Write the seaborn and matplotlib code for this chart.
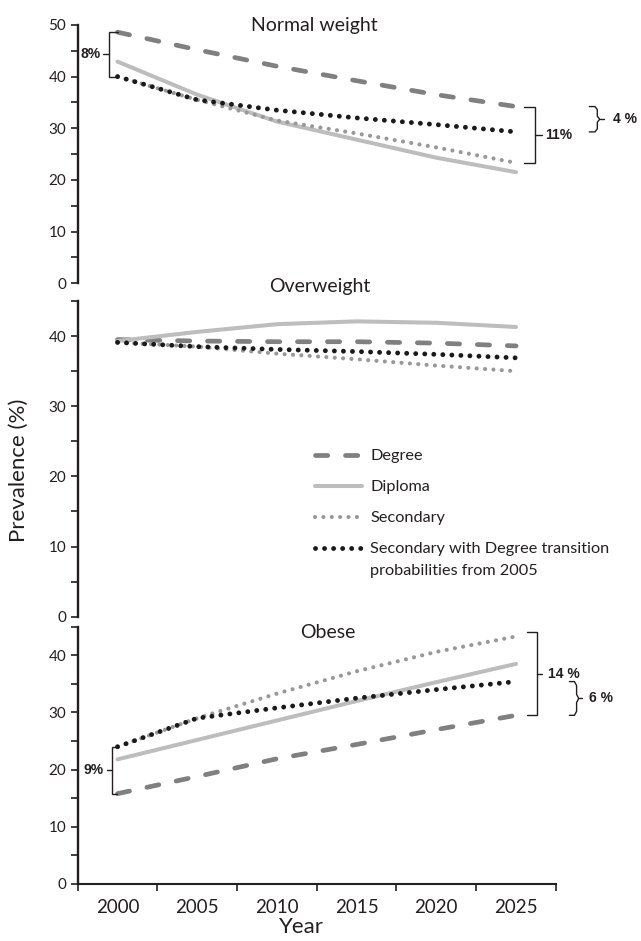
import matplotlib
matplotlib.use("Agg")
import matplotlib.pyplot as plt
from matplotlib.ticker import MultipleLocator, FixedLocator, NullFormatter
import numpy as np
import pandas as pd
import seaborn as sns

# ============================================================
# DATA (5-year steps)
# ============================================================
years = [2000, 2005, 2010, 2015, 2020, 2025]
groups = ["Degree", "Diploma", "Secondary", "Secondary with Degree TP"]

normal_degree = [48.6, 45.2, 42.0, 39.2, 36.5, 34.2]
normal_diploma = [42.9, 36.5, 31.3, 27.8, 24.3, 21.5]
normal_secondary = [40.0, 35.5, 31.5, 29.0, 26.3, 23.3]
normal_sec_tp = [40.0, 35.5, 33.5, 32.0, 30.7, 29.3]

over_degree = [39.5, 39.3, 39.2, 39.2, 39.0, 38.6]
over_diploma = [39.3, 40.6, 41.7, 42.1, 41.9, 41.3]
over_secondary = [39.1, 38.5, 37.5, 36.7, 35.8, 35.0]
over_sec_tp = [39.1, 38.5, 38.1, 37.8, 37.4, 36.9]

obese_degree = [15.8, 18.8, 21.9, 24.4, 27.0, 29.5]
obese_diploma = [21.8, 25.2, 28.6, 32.0, 35.3, 38.5]
obese_secondary = [24.0, 29.0, 33.3, 37.2, 40.6, 43.3]
obese_sec_tp = [24.0, 29.0, 30.8, 32.5, 34.0, 35.4]

legend_labels = ["Degree", "Diploma", "Secondary", "Secondary with Degree transition"]
legend_extra = "probabilities from 2005"

# ============================================================
# STYLE
# ============================================================
sns.set_style("ticks")
plt.rcParams["font.family"] = ["Lato", "DejaVu Sans"]
INK = "#231f20"
plt.rcParams["text.color"] = INK
plt.rcParams["axes.labelcolor"] = INK
plt.rcParams["xtick.color"] = INK
plt.rcParams["ytick.color"] = INK

palette = {"Degree": "#808080", "Diploma": "#bdbdbd",
           "Secondary": "#999999", "Secondary with Degree TP": "#1a1a1a"}
dash_map = {"Degree": (2.6, 3.75), "Diploma": "",
            "Secondary": (0.01, 2.0), "Secondary with Degree TP": (0.01, 1.85)}
size_map = {"Degree": 3.4, "Diploma": 2.9,
            "Secondary": 3.0, "Secondary with Degree TP": 3.5}

BR_FONT = dict(family=["Liberation Sans", "DejaVu Sans"], weight="bold", size=10, color=INK)


def draw_lines(ax, deg, dip, sec, tp):
    df = pd.DataFrame({
        "year": years * 4,
        "value": deg + dip + sec + tp,
        "group": np.repeat(groups, len(years)),
    })
    sns.lineplot(data=df, x="year", y="value", hue="group", style="group", size="group",
                 hue_order=groups, style_order=groups, size_order=groups,
                 palette=palette, dashes=dash_map, sizes=size_map,
                 estimator=None, legend=False, ax=ax,
                 dash_capstyle="round", solid_capstyle="round")


def setup_axis(ax, ytop, bottom_axis=False):
    ax.set_xlim(1997.5, 2027.5)
    ax.set_ylim(0, ytop)
    ax.yaxis.set_major_locator(MultipleLocator(10))
    ax.yaxis.set_minor_locator(MultipleLocator(5))
    ax.tick_params(axis="y", which="both", direction="out", length=5.3, width=1.2,
                   labelsize=11, pad=3)
    for s in ["top", "right"]:
        ax.spines[s].set_visible(False)
    ax.spines["left"].set_linewidth(1.7)
    ax.spines["left"].set_color(INK)
    ax.set_ylabel("")
    ax.set_xlabel("")
    if bottom_axis:
        ax.spines["bottom"].set_linewidth(1.5)
        ax.spines["bottom"].set_color(INK)
        ax.xaxis.set_major_locator(FixedLocator(np.arange(1997.5, 2028, 5)))
        ax.xaxis.set_major_formatter(NullFormatter())
        ax.xaxis.set_minor_locator(FixedLocator(years))
        ax.set_xticklabels([str(y) for y in years], minor=True)
        ax.tick_params(axis="x", which="major", direction="out", length=5.3, width=1.2)
        ax.tick_params(axis="x", which="minor", length=0, labelsize=13.5, pad=11)
    else:
        ax.spines["bottom"].set_visible(False)
        ax.set_xticks([])


def bracket(ax, x_arm, x_v, y0, y1, x_tick, x_label, label, curly=False):
    ym = (y0 + y1) / 2
    if curly:
        rx = 0.3 * (x_v - x_arm)
        ry = 0.12 * (y0 - y1)
        px = [x_arm, x_v - rx, x_v, x_v, x_v + rx, x_v, x_v, x_v - rx, x_arm]
        py = [y0, y0, y0 - ry, ym + ry, ym, ym - ry, y1 + ry, y1, y1]
        tick_start = x_v + rx
    else:
        px = [x_arm, x_v, x_v, x_arm]
        py = [y0, y0, y1, y1]
        tick_start = x_v
    ax.plot(px, py, color=INK, lw=1.0, clip_on=False, solid_joinstyle="miter")
    ax.plot([tick_start, x_tick], [ym, ym], color=INK, lw=1.0, clip_on=False)
    ha = "left" if x_tick > x_v else "right"
    ax.text(x_label, ym, label, ha=ha, va="center", **BR_FONT)


# ============================================================
# FIGURE
# ============================================================
fig = plt.figure(figsize=(6.41, 9.41), dpi=100)
ax_top = fig.add_axes([0.1212, 0.699, 0.746, 0.2745])
ax_mid = fig.add_axes([0.1212, 0.3446, 0.746, 0.3355])
ax_bot = fig.add_axes([0.1212, 0.0606, 0.746, 0.2734])

# --- Normal weight
draw_lines(ax_top, normal_degree, normal_diploma, normal_secondary, normal_sec_tp)
setup_axis(ax_top, 50)
ax_top.text(0.494, 0.978, "Normal weight", transform=ax_top.transAxes,
            ha="center", va="baseline", fontsize=14)
bracket(ax_top, 2000.03, 1999.49, normal_degree[0], normal_sec_tp[0], 1999.1, 1998.95, "8%")
bracket(ax_top, 2025.5, 2026.2, normal_degree[-1], normal_secondary[-1], 2026.65, 2026.8, "11%")
bracket(ax_top, 2029.6, 2030.1, normal_degree[-1], normal_sec_tp[-1], 2030.5, 2031.1, "4 %", curly=True)

# --- Overweight
draw_lines(ax_mid, over_degree, over_diploma, over_secondary, over_sec_tp)
setup_axis(ax_mid, 45)
ax_mid.text(0.506, 1.029, "Overweight", transform=ax_mid.transAxes,
            ha="center", va="baseline", fontsize=14)
ax_mid.set_ylabel("Prevalence (%)", fontsize=16)
ax_mid.yaxis.set_label_coords(-0.102, 0.465)

leg = ax_mid.legend(handles=ax_mid.get_lines()[:4], labels=legend_labels,
                    loc="upper left", bbox_to_anchor=(0.496, 0.531), frameon=False,
                    fontsize=11.7, handlelength=2.9, handletextpad=0.52,
                    labelspacing=1.02, borderpad=0, borderaxespad=0)

# --- Obese
draw_lines(ax_bot, obese_degree, obese_diploma, obese_secondary, obese_sec_tp)
setup_axis(ax_bot, 45, bottom_axis=True)
ax_bot.text(0.523, 0.955, "Obese", transform=ax_bot.transAxes,
            ha="center", va="baseline", fontsize=14)
ax_bot.set_xlabel("Year", fontsize=16)
ax_bot.xaxis.set_label_coords(0.469, -0.13)
bracket(ax_bot, 1999.95, 1999.64, obese_sec_tp[0], obese_degree[0], 1999.35, 1999.1, "9%")
bracket(ax_bot, 2025.7, 2026.3, obese_secondary[-1] + 0.8, obese_degree[-1], 2026.6, 2027.0, "14 %")
bracket(ax_bot, 2028.35, 2028.8, obese_sec_tp[-1], obese_degree[-1], 2029.15, 2029.55, "6 %", curly=True)

# second line of the last legend label, aligned under the first line
fig.canvas.draw()
bb = leg.get_texts()[3].get_window_extent()
fig.text(bb.x0 / fig.bbox.width, (bb.y0 - 22) / fig.bbox.height, legend_extra,
         fontsize=11.7, ha="left", va="bottom")

fig.savefig("out.png", dpi=100)
